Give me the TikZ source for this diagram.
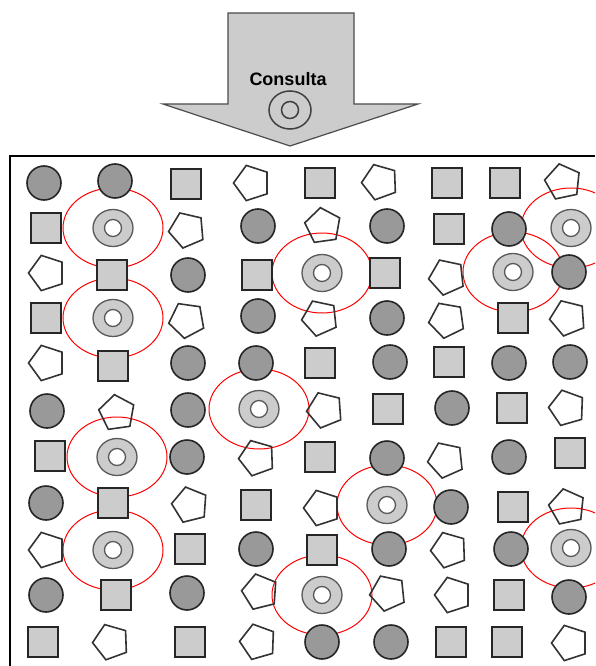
\documentclass[tikz,border=0pt]{standalone}
\usepackage{fontspec}
\setmainfont{Liberation Sans}
\usetikzlibrary{shapes.geometric}

\tikzset{
  circulo/.style={circle, draw=black!85, fill=black!40, line width=1.6pt, minimum size=34pt, inner sep=0pt},
  cuadro/.style={rectangle, draw=black!85, fill=black!20, line width=1.6pt, minimum size=30pt, inner sep=0pt},
  penta/.style={regular polygon, regular polygon sides=5, draw=black!80, line width=1.6pt, minimum size=37pt, inner sep=0pt},
  anillo/.style={ellipse, draw=black!65, fill=black!20, line width=1.3pt, minimum width=40pt, minimum height=37pt, inner sep=0pt},
  hueco/.style={circle, draw=black!65, fill=white, line width=1.3pt, minimum size=17pt, inner sep=0pt},
  zona/.style={draw=red, line width=1pt},
  flecha/.style={draw=black!70, fill=black!20, line width=1.2pt},
}

\begin{document}
\begin{tikzpicture}[x=1pt, y=-1pt]
  \clip (0,0) rectangle (595,666);
  % flecha de consulta
  \draw[flecha] (228,13) -- (354,13) -- (354,104) -- (418,104) -- (290,146)
    -- (163,104) -- (228,104) -- cycle;
  \node[font=\bfseries\fontsize{18}{18}\selectfont] (consulta) at (288,79) {Consulta};
  \node[ellipse, draw=black!75, line width=1.5pt, minimum width=42pt, minimum height=38pt] (q) at (290,110) {};
  \node[circle, draw=black!75, line width=1.5pt, minimum size=17pt, inner sep=0pt] (qh) at (290,110) {};
  % marco de la base
  \draw[line width=1.5pt] (10,666) -- (10,156) -- (595,156);
  % anillos (objetos parecidos)
  \foreach \x/\y [count=\i] in {113/228, 571/228, 322/273, 513/272, 113/318, 259/409,
      117/457, 387/505, 113/550, 571/548, 322/595} {
    \node[anillo] (d\i) at (\x,\y) {};
    \node[hueco] (h\i) at (\x,\y) {};
  }
  % radio de busqueda
  \foreach \i in {1,...,11} \draw[zona] (d\i) ellipse [x radius=50pt, y radius=40pt];
  % circulos
  \foreach \x/\y [count=\i] in {44/183, 115/181, 258/226, 387/226, 509/229, 188/275, 569/272,
      258/316, 387/318, 188/363, 256/363, 390/362, 509/363, 570/362, 47/411, 188/410,
      452/408, 187/457, 387/458, 509/457, 46/503, 451/507, 256/549, 389/549, 511/549,
      46/595, 187/593, 569/597, 322/642, 391/642}
    \node[circulo] (c\i) at (\x,\y) {};
  % cuadrados
  \foreach \x/\y [count=\i] in {186/184, 320/183, 447/183, 505/183, 46/228, 449/229, 112/275,
      257/275, 385/273, 46/318, 513/318, 113/366, 320/363, 449/362, 388/409, 512/408,
      50/456, 320/457, 570/453, 113/503, 256/505, 513/507, 190/549, 322/550, 116/595,
      509/595, 43/642, 190/642, 451/642, 507/642}
    \node[cuadro] (s\i) at (\x,\y) {};
  % pentagonos
  \foreach \x/\y/\r [count=\i] in {252/183/90, 380/182/92, 563/182/84, 187/230/95, 323/226/80,
      47/273/90, 447/277/96, 187/320/100, 320/318/96, 447/320/98, 568/318/94, 47/363/90,
      117/413/80, 325/410/94, 567/408/88, 257/458/92, 446/460/96, 190/505/86, 322/508/90,
      567/507/84, 47/550/90, 449/550/92, 260/592/86, 388/593/96, 453/595/90, 111/642/92,
      258/642/88, 570/643/90}
    \node[penta, rotate=\r] (p\i) at (\x,\y) {};
\end{tikzpicture}
\end{document}
